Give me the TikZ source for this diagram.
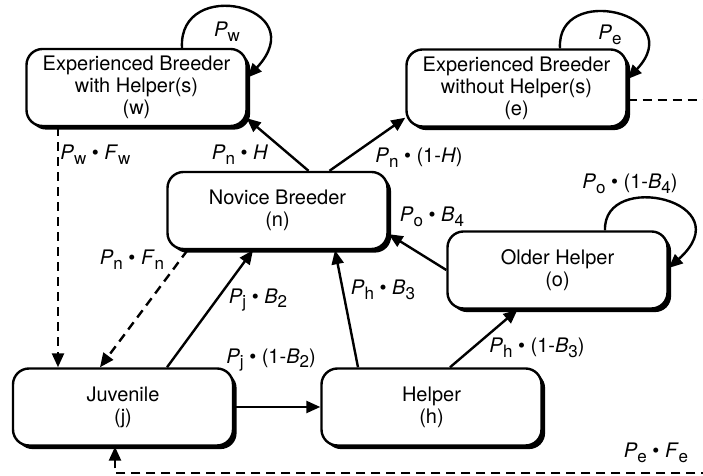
\documentclass[tikz,border=0pt]{standalone}
\usepackage{fontspec}
\setmainfont{TeX Gyre Heros}
\usetikzlibrary{arrows.meta,shadows,calc}
\newcommand{\term}[2]{\textit{#1}\raisebox{-0.45ex}{\fontsize{8.5}{9}\selectfont #2}}
\tikzset{
  stage/.style={draw, line width=1.2pt, rounded corners=8pt, fill=white,
    minimum width=110pt, minimum height=38.5pt, align=center,
    font=\fontsize{10}{11}\selectfont,
    drop shadow={shadow xshift=1.8pt, shadow yshift=-1.8pt, fill=black, opacity=1}},
  link/.style={line width=1.2pt, -{Triangle[length=7pt,width=6pt]}},
  flow/.style={link, dash pattern=on 4.5pt off 3pt},
  lbl/.style={font=\fontsize{10}{11}\selectfont, inner sep=1pt}
}
\begin{document}
\begin{tikzpicture}[x=0.5pt,y=0.5pt]
\useasboundingbox (0,0) rectangle (703,476);
\clip (0,0) rectangle (703,476);
\node [stage] (w) at (136.5,388.5) {Experienced Breeder\\with Helper(s)\\(w)};
\node [stage] (e) at (516.5,388) {Experienced Breeder\\without Helper(s)\\(e)};
\node [stage] (n) at (277.5,265.5) {Novice Breeder\\(n)};
\node [stage] (o) at (557.5,206) {Older Helper\\(o)};
\node [stage] (j) at (123,69) {Juvenile\\(j)};
\node [stage] (h) at (431.5,69) {Helper\\(h)};
\coordinate (ne) at (715,376);
\coordinate (se) at (715,3);
\draw [link] ($(w.north)+(45.5,0)$) .. controls +(-4,72) and +(67,72) .. ($(w.east)+(0,10)$);
\draw [link] ($(e.north)+(43.5,0)$) .. controls +(-4,66) and +(62,66) .. ($(e.east)+(0,9)$);
\draw [link] ($(o.north)+(47.5,0)$) .. controls +(-2,61) and +(75,67) .. ($(o.east)+(0,2)$);
\draw [link] ($(n.north)+(31,0)$) -- ($(w.south east)+(-1,9)$);
\draw [link] ($(n.north)+(52,0)$) -- ($(e.south west)+(0,10)$);
\draw [flow] ($(w.south)+(-78.5,0)$) -- ($(j.north)+(-65,0)$);
\draw [flow] ($(n.south)+(-90,0)$) -- ($(j.north)+(-23,0)$);
\draw [link] ($(j.north)+(44,0)$) -- ($(n.south)+(-24.5,0)$);
\draw [link] ($(h.north)+(-73.5,0)$) -- ($(n.south)+(57.5,0)$);
\draw [link] (o.west) -- ($(n.south east)+(0,16)$);
\draw [link] ($(h.north)+(18.5,0)$) -- ($(o.south)+(-40,0)$);
\draw [link] (j.east) -- (h.west);
\draw [flow] ($(e.east)+(0,-12)$) -- (ne) -- (se) -| ($(j.south)+(-8,0)$);
\node [lbl] (lw) at (227,444) {\term{P}{w}};
\node [lbl] (le) at (610,441) {\term{P}{e}};
\node [lbl] (lo) at (630,292) {\term{P}{o} \textbullet{} (1-\term{B}{4})};
\node [lbl] (lnw) at (240,321) {\term{P}{n} \textbullet{} \textit{H}};
\node [lbl] (lne) at (419,318) {\term{P}{n} \textbullet{} (1-\textit{H})};
\node [lbl, anchor=west] (lwj) at (58,321) {\term{P}{w} \textbullet{} \term{F}{w}};
\node [lbl] (lnj) at (132,216) {\term{P}{n} \textbullet{} \term{F}{n}};
\node [lbl] (ljn) at (258,176) {\term{P}{j} \textbullet{} \term{B}{2}};
\node [lbl] (lhn) at (383,186) {\term{P}{h} \textbullet{} \term{B}{3}};
\node [lbl] (lon) at (432,259) {\term{P}{o} \textbullet{} \term{B}{4}};
\node [lbl] (lho) at (537,128) {\term{P}{h} \textbullet{} (1-\term{B}{3})};
\node [lbl] (ljh) at (271,116) {\term{P}{j} \textbullet{} (1-\term{B}{2})};
\node [lbl] (lej) at (656,23) {\term{P}{e} \textbullet{} \term{F}{e}};
\end{tikzpicture}
\end{document}
